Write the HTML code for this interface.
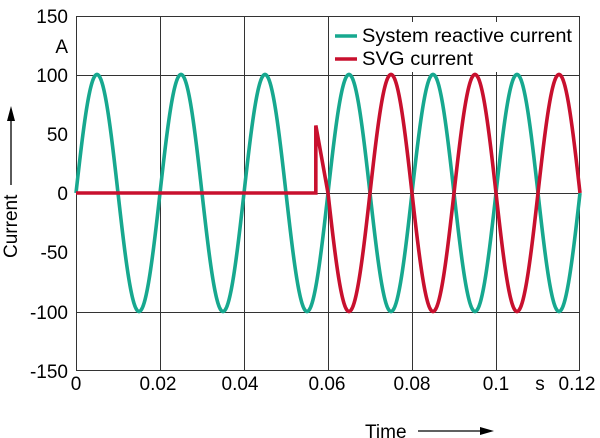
<!DOCTYPE html>
<html><head><meta charset="utf-8"><style>body{margin:0;background:#fff}svg{display:block}text{font-family:"Liberation Sans",Arial,sans-serif;font-size:19px;fill:#000}</style></head>
<body>
<svg id="s" width="600" height="438" viewBox="0 0 600 438">
<g stroke="#333" stroke-width="1" fill="none">
<rect x="76.5" y="16.5" width="503" height="354"/>
<line x1="76" y1="75.5" x2="580" y2="75.5"/><line x1="76" y1="193.5" x2="580" y2="193.5"/><line x1="76" y1="312.5" x2="580" y2="312.5"/>
<line x1="160.5" y1="16" x2="160.5" y2="371"/><line x1="244.5" y1="16" x2="244.5" y2="371"/><line x1="328.5" y1="16" x2="328.5" y2="371"/><line x1="412.5" y1="16" x2="412.5" y2="371"/><line x1="496.5" y1="16" x2="496.5" y2="371"/>
</g>
<g text-anchor="end">
<text x="68" y="23">150</text><text x="68" y="53">A</text><text x="68" y="82">100</text><text x="68" y="141">50</text><text x="68" y="200">0</text><text x="68" y="259">-50</text><text x="68" y="319">-100</text><text x="68" y="378">-150</text>
</g>
<g text-anchor="middle">
<text x="76" y="390">0</text><text x="158" y="390">0.02</text><text x="240" y="390">0.04</text><text x="327" y="390">0.06</text><text x="412" y="390">0.08</text><text x="496" y="390">0.1</text><text x="540" y="390">s</text><text x="577" y="390">0.12</text>
</g>
<text x="365" y="438">Time</text>
<line x1="418" y1="431" x2="482" y2="431" stroke="#000" stroke-width="1.3"/><polygon points="494,431 480,427 480,435" fill="#000"/>
<text transform="translate(17,258) rotate(-90)">Current</text>
<line x1="11" y1="185" x2="11" y2="120" stroke="#000" stroke-width="1.3"/><polygon points="11,106 7,121 15,121" fill="#000"/>
<path id="g" fill="none" stroke="#17a88f" stroke-width="3.6"/>
<path id="r" fill="none" stroke="#c8102e" stroke-width="3.6"/>
<rect x="331" y="22" width="247" height="50" fill="#fff"/>
<line x1="335" y1="36" x2="357" y2="36" stroke="#17a88f" stroke-width="3.6"/>
<line x1="335" y1="59" x2="357" y2="59" stroke="#c8102e" stroke-width="3.6"/>
<text x="362" y="42" textLength="210" lengthAdjust="spacingAndGlyphs">System reactive current</text>
<text x="362" y="65" textLength="111" lengthAdjust="spacingAndGlyphs">SVG current</text>
</svg>
<script>
function X(t){return 76+t*4200}function Y(v){return 193-v*1.185}
var g="",r="";
for(var i=0;i<=1200;i++){var t=i*0.0001;var v=100*Math.sin(2*Math.PI*50*t);g+=(i?"L":"M")+X(t).toFixed(2)+","+Y(v).toFixed(2);}
r="M"+X(0)+","+Y(0)+"L"+X(0.0571)+","+Y(0)+"L"+X(0.0571)+","+Y(57)+"L"+X(0.06)+","+Y(0);
for(var i=600;i<=1200;i++){var t=i*0.0001;var v=-100*Math.sin(2*Math.PI*50*t);r+="L"+X(t).toFixed(2)+","+Y(v).toFixed(2);}
document.getElementById("g").setAttribute("d",g);document.getElementById("r").setAttribute("d",r);
</script>
</body></html>
